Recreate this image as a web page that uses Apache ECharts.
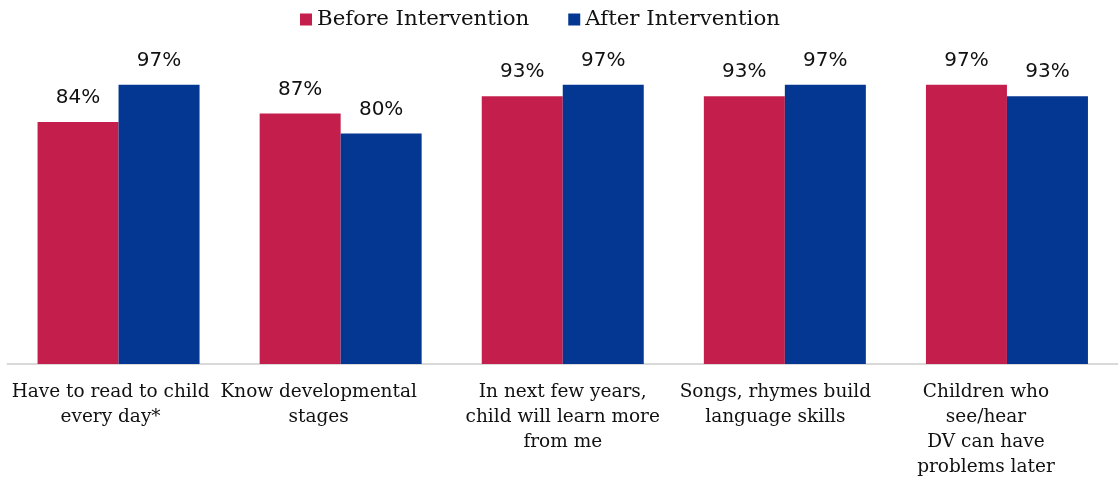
<!DOCTYPE html>
<html>
<head>
<meta charset="utf-8">
<script src="https://cdn.jsdelivr.net/npm/echarts@6/dist/echarts.min.js"></script>
<style>html,body{margin:0;padding:0;background:#fff}#c{width:1118px;height:482px}</style>
</head>
<body>
<div id="c"></div>
<script>
const categories = [
  "Have to read to child\nevery day*",
  "Know developmental\nstages",
  "In next few years,\nchild will learn more\nfrom me",
  "Songs, rhymes build\nlanguage skills",
  "Children who\nsee/hear\nDV can have\nproblems later"
];
const beforeValues = [84, 87, 93, 93, 97];
const afterValues = [97, 80, 97, 97, 93];
const seriesNames = ["Before Intervention", "After Intervention"];

// horizontal shift (px) of each category label relative to its group centre (layout only)
const labelShift = [-8, -22, 0, -9.5, -21];

const serif = "DejaVu Serif";
const chart = echarts.init(document.getElementById('c'));
const labelCfg = {
  show: true, position: 'top', distance: 14,
  formatter: p => p.value + '%',
  fontFamily: 'DejaVu Sans', fontSize: 20, color: '#111'
};
const axisData = categories.map((c, i) => ({
  value: c,
  textStyle: { padding: [0, Math.max(0, -2 * labelShift[i]), 0, Math.max(0, 2 * labelShift[i])] }
}));
chart.setOption({
  animation: false,
  legend: {
    top: 4, left: 295,
    itemWidth: 12, itemHeight: 12, itemGap: 39,
    icon: 'rect',
    textStyle: { fontFamily: serif, fontSize: 21.3, color: '#111' },
    data: seriesNames
  },
  grid: { left: 7.5, width: 1120, top: 76, bottom: 118, containLabel: false },
  xAxis: {
    type: 'category', data: axisData,
    axisLine: { lineStyle: { color: '#d9d9d9', width: 2 } },
    axisTick: { show: false },
    axisLabel: {
      interval: 0, margin: 16, lineHeight: 25,
      fontFamily: serif, fontSize: 18.5, color: '#111', align: 'center'
    }
  },
  yAxis: { type: 'value', min: 0, max: 100, show: false, splitLine: { show: false } },
  series: [
    { name: seriesNames[0], type: 'bar', data: beforeValues, barWidth: 81, barGap: '0%',
      itemStyle: { color: '#C41F4C' }, label: labelCfg },
    { name: seriesNames[1], type: 'bar', data: afterValues, barWidth: 81,
      itemStyle: { color: '#043791' }, label: labelCfg }
  ]
});
</script>
</body>
</html>
